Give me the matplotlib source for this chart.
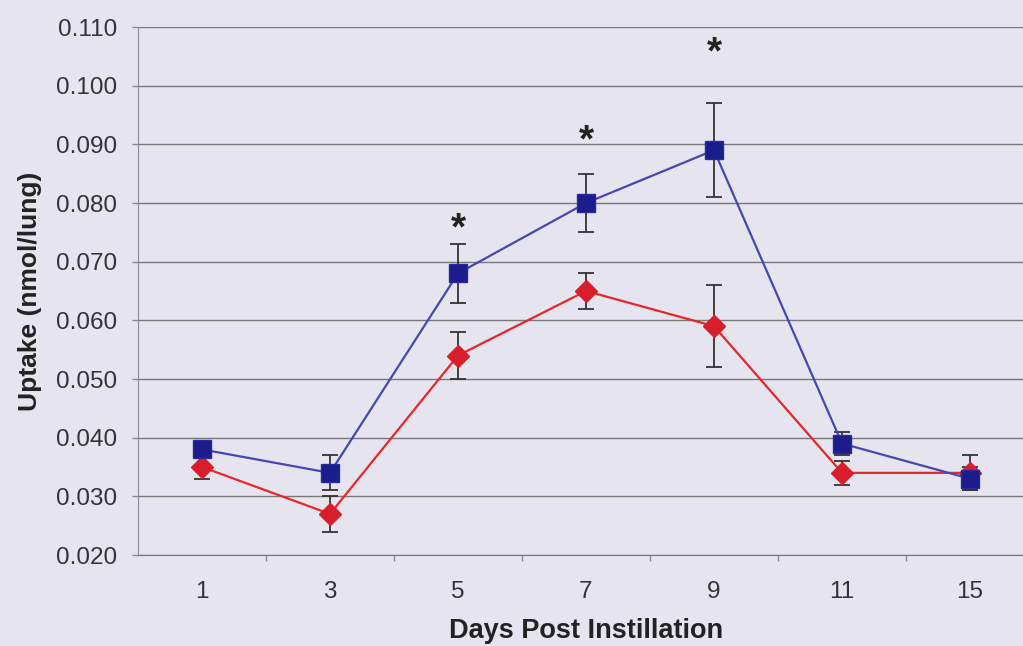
import matplotlib
matplotlib.use("Agg")
import matplotlib.pyplot as plt
import numpy as np

days = ["1", "3", "5", "7", "9", "11", "15"]

# blue squares series
blue_mean = [0.038, 0.034, 0.068, 0.080, 0.089, 0.039, 0.033]
blue_err = [0.000, 0.003, 0.005, 0.005, 0.008, 0.002, 0.002]

# red diamonds series
red_mean = [0.035, 0.027, 0.054, 0.065, 0.059, 0.034, 0.034]
red_err = [0.002, 0.003, 0.004, 0.003, 0.007, 0.002, 0.003]

# significance markers (category index, y)
star_idx = [2, 3, 4]
star_y = [0.0755, 0.0905, 0.1055]

bg = "#e6e5ef"
plt.rcParams['font.family'] = ['Liberation Sans', 'DejaVu Sans']

fig = plt.figure(figsize=(10.23, 6.46), dpi=100, facecolor=bg)
ax = fig.add_axes([138 / 1023, 91 / 646, 896 / 1023, 528 / 646], facecolor=bg)

x = np.arange(len(days))

ax.errorbar(x, red_mean, yerr=red_err, fmt='none', ecolor='#333333',
            elinewidth=1.3, capsize=6, capthick=1.3, zorder=2)
ax.errorbar(x, blue_mean, yerr=blue_err, fmt='none', ecolor='#333333',
            elinewidth=1.3, capsize=6, capthick=1.3, zorder=2)

ax.plot(x, red_mean, color='#e8262a', linewidth=1.6, marker='D',
        markersize=11, markerfacecolor='#d81e2a', markeredgecolor='#d81e2a', zorder=3)
ax.plot(x, blue_mean, color='#4646b4', linewidth=1.6, marker='s',
        markersize=13, markerfacecolor='#1c1c8c', markeredgecolor='#2a2a9a', zorder=4)

for i, yy in zip(star_idx, star_y):
    ax.text(x[i], yy, "*", ha='center', va='center', fontsize=28,
            fontweight='bold', color='#222222')

ax.set_xlim(-0.5, len(days) - 0.5)
ax.set_ylim(0.020, 0.110)
ax.set_yticks(np.arange(0.020, 0.1101, 0.010))
ax.set_yticklabels(["%.3f" % v for v in np.arange(0.020, 0.1101, 0.010)])
ax.set_xticks(x)
ax.set_xticklabels(days)
ax.set_xticks(np.arange(0.5, len(days) - 0.5, 1.0), minor=True)

ax.yaxis.grid(True, color='#777777', linewidth=1.0)
ax.set_axisbelow(True)

ax.tick_params(axis='y', labelsize=17.5, colors='#8a8a8a', labelcolor='#333333',
               length=4.5, width=1, pad=10.5)
ax.tick_params(axis='x', which='major', length=0, labelsize=17.5,
               labelcolor='#333333', pad=19)
ax.tick_params(axis='x', which='minor', length=4, width=1, colors='#8a8a8a')

for s in ['top', 'right']:
    ax.spines[s].set_visible(False)
ax.spines['left'].set_color('#8a8a8a')
ax.spines['bottom'].set_color('#777777')

ax.set_xlabel("Days Post Instillation", fontsize=19.5, fontweight='bold',
              color='#222222', labelpad=10.5)
ax.set_ylabel("Uptake (nmol/lung)", fontsize=19, fontweight='bold',
              color='#222222', labelpad=10)

fig.savefig("out.png", dpi=100, facecolor=bg)
